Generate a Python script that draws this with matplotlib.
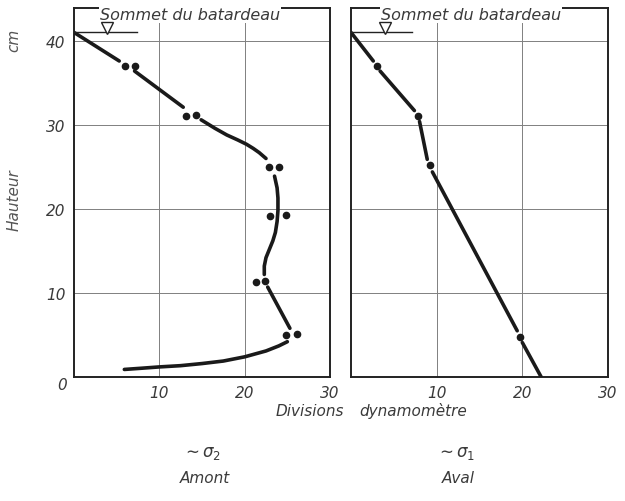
import matplotlib
matplotlib.use("Agg")
import matplotlib.pyplot as plt

# ---------------- data ----------------
x_ticks = [10, 20, 30]
y_ticks = [10, 20, 30, 40]
sommet_level = 41.0

# Amont (left) : curve pieces between measurement dots
amont_segments = [
    ([0.0, 5.3], [41.0, 37.6]),
    ([7.1, 12.8], [36.4, 32.1]),
    ([14.9, 16.5, 17.9, 19.2, 20.2, 21.0, 21.7, 22.5],
     [30.6, 29.6, 28.8, 28.2, 27.7, 27.2, 26.7, 26.0]),
    ([23.5, 23.8, 23.9, 23.9, 23.8, 23.6, 23.3, 22.9, 22.5, 22.3, 22.3],
     [23.9, 22.5, 21.3, 19.8, 18.5, 17.2, 16.2, 15.2, 14.2, 13.2, 12.2]),
    ([22.7, 25.3], [10.7, 5.8]),
    ([25.0, 24.0, 22.5, 20.0, 17.5, 15.0, 12.5, 10.0, 8.0, 5.9],
     [4.2, 3.7, 3.1, 2.4, 1.9, 1.6, 1.35, 1.2, 1.05, 0.9]),
]
amont_dots_x = [6.0, 7.1, 13.1, 14.3, 22.9, 24.0, 23.0, 24.8, 21.3, 22.4, 24.9, 26.1]
amont_dots_y = [37.0, 37.0, 31.1, 31.2, 25.0, 25.0, 19.2, 19.3, 11.3, 11.4, 5.0, 5.1]

# Aval (right)
aval_segments = [
    ([0.0, 2.6], [41.0, 37.6]),
    ([3.4, 7.4], [36.4, 31.7]),
    ([8.0, 8.9], [30.4, 25.9]),
    ([9.5, 19.4], [24.4, 5.5]),
    ([20.0, 22.2], [4.1, 0.0]),
]
aval_dots_x = [3.0, 7.8, 9.2, 19.7]
aval_dots_y = [37.0, 31.1, 25.2, 4.8]

# ---------------- figure ----------------
TXT = "#3a3a3a"
FONT = {"family": "DejaVu Sans", "style": "italic"}

fig = plt.figure(figsize=(6.25, 5.02), dpi=100)
axL = fig.add_axes([0.1184, 0.247, 0.4096, 0.735])
axR = fig.add_axes([0.5616, 0.247, 0.4112, 0.735])

for ax, segs, dx, dy, tri_x, line_x, title_x in [
    (axL, amont_segments, amont_dots_x, amont_dots_y, 3.9, 7.4, 13.6),
    (axR, aval_segments, aval_dots_x, aval_dots_y, 4.0, 7.1, 14.0),
]:
    ax.set_xlim(0, 30)
    ax.set_ylim(0, 43.9)
    ax.set_xticks(x_ticks)
    ax.set_yticks(y_ticks)
    ax.grid(True, color="#808080", linewidth=0.7)
    ax.tick_params(length=0, labelsize=11, labelcolor=TXT, pad=6)
    for s in ax.spines.values():
        s.set_color("#222222")
        s.set_linewidth(1.4)
    for sx, sy in segs:
        ax.plot(sx, sy, color="#1a1a1a", linewidth=2.6, solid_capstyle="round",
                solid_joinstyle="round", zorder=3)
    ax.plot(dx, dy, "o", color="#1a1a1a", markersize=4.5, zorder=4, linestyle="none")
    # water level marker
    ax.plot([0, line_x], [sommet_level, sommet_level], color="#222222", linewidth=1.0, zorder=3)
    ax.plot([tri_x], [sommet_level + 0.55], marker="v", markersize=9,
            markerfacecolor="white", markeredgecolor="#222222", markeredgewidth=1.0, zorder=6)
    ax.text(title_x, 43.1, "Sommet du batardeau", fontsize=11.5, color=TXT, ha="center",
            va="center", bbox=dict(facecolor="white", edgecolor="none", pad=0.5), zorder=5,
            **FONT)
    for lab in ax.get_xticklabels() + ax.get_yticklabels():
        lab.set_fontstyle("italic")

axR.set_yticklabels([])
axL.text(-1.4, -0.9, "0", fontsize=11, color=TXT, ha="center", va="center", **FONT)

# outer labels
fig.text(14 / 625, 1 - 40 / 502, "cm", rotation=90, fontsize=11, color="#555555",
         ha="center", va="center", **FONT)
fig.text(14 / 625, 1 - 200 / 502, "Hauteur", rotation=90, fontsize=11, color="#555555",
         ha="center", va="center", **FONT)
fig.text(310 / 625, 1 - 411 / 502, "Divisions", fontsize=11, color=TXT,
         ha="center", va="center", **FONT)
fig.text(413 / 625, 1 - 411 / 502, "dynamomètre", fontsize=11, color=TXT,
         ha="center", va="center", **FONT)
fig.text(202 / 625, 1 - 453 / 502, r"$\sim\sigma_2$", fontsize=12, color=TXT,
         ha="center", va="center")
fig.text(205 / 625, 1 - 479 / 502, "Amont", fontsize=11, color=TXT,
         ha="center", va="center", **FONT)
fig.text(456 / 625, 1 - 453 / 502, r"$\sim\sigma_1$", fontsize=12, color=TXT,
         ha="center", va="center")
fig.text(458 / 625, 1 - 479 / 502, "Aval", fontsize=11, color=TXT,
         ha="center", va="center", **FONT)

fig.savefig("out.png", dpi=100)
